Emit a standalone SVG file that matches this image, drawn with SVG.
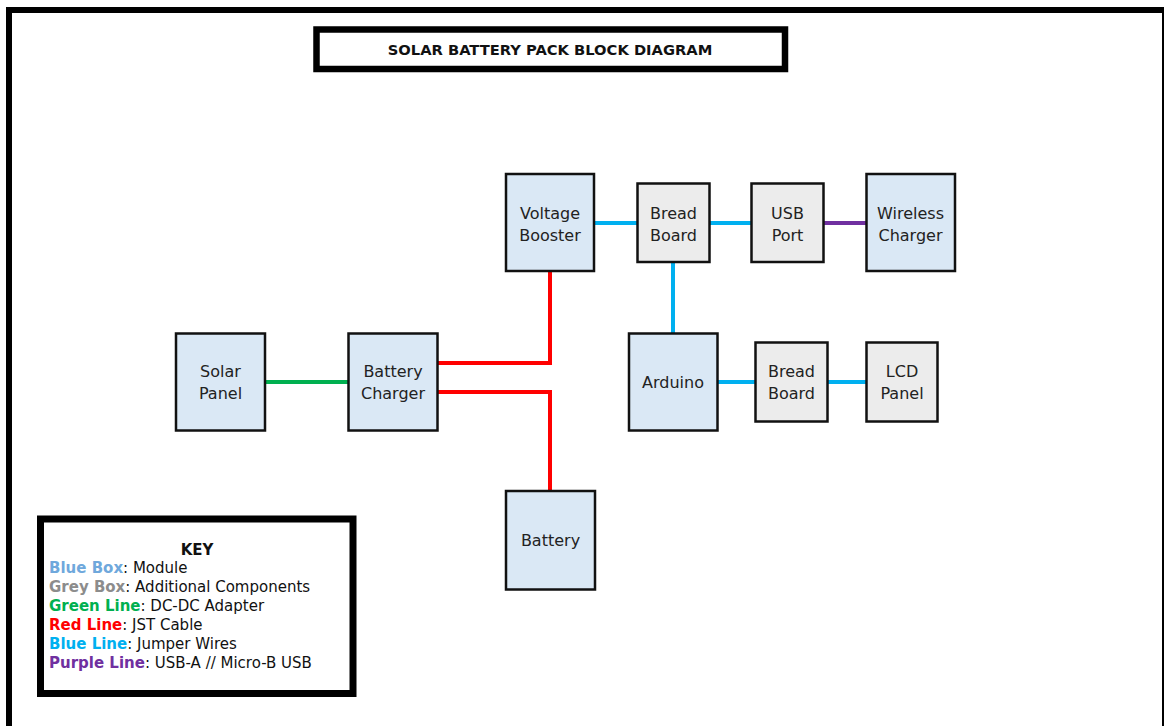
<svg xmlns="http://www.w3.org/2000/svg" width="1165" height="726" viewBox="0 0 1165 726">
  <style>
    .mod { fill: #dae8f5; stroke: #111; stroke-width: 2.5; }
    .add { fill: #ececec; stroke: #111; stroke-width: 2.5; }
    .lbl { font-family: "DejaVu Sans", Verdana, sans-serif; font-size: 16px; fill: #222; text-anchor: middle; }
    .wire { fill: none; stroke-width: 4; }
    .jst { stroke: #ff0000; }
    .jmp { stroke: #00b0f0; }
    .dc { stroke: #00b050; }
    .usb { stroke: #7030a0; }
    .key { font-family: "DejaVu Sans", Verdana, sans-serif; font-size: 15px; fill: #111; }
    .b { font-weight: bold; }
  </style>

  <rect width="1165" height="726" fill="#ffffff"/>

  <!-- page frame -->
  <g id="frame">
    <line x1="9" y1="7" x2="9" y2="726" stroke="#000" stroke-width="6"/>
    <line x1="6" y1="10" x2="1164" y2="10" stroke="#000" stroke-width="6"/>
    <line x1="1163" y1="10" x2="1163" y2="726" stroke="#000" stroke-width="2"/>
  </g>

  <!-- title -->
  <g id="title">
    <rect x="316.5" y="29.5" width="468.5" height="39.5" fill="#fff" stroke="#000" stroke-width="6.5"/>
    <text x="550" y="54.5" font-family="DejaVu Sans, Verdana, sans-serif" font-size="14.7" font-weight="bold" text-anchor="middle" fill="#111">SOLAR BATTERY PACK BLOCK DIAGRAM</text>
  </g>

  <!-- connectors -->
  <g id="connectors">
    <line class="wire dc" x1="266" y1="382" x2="348" y2="382"/>
    <polyline class="wire jst" points="438,363 550,363 550,271"/>
    <polyline class="wire jst" points="438,392 550,392 550,490"/>
    <line class="wire jmp" x1="594" y1="223" x2="637" y2="223"/>
    <line class="wire jmp" x1="710" y1="223" x2="751" y2="223"/>
    <line class="wire usb" x1="824" y1="223" x2="866" y2="223"/>
    <line class="wire jmp" x1="673" y1="262" x2="673" y2="333"/>
    <line class="wire jmp" x1="718" y1="382" x2="755" y2="382"/>
    <line class="wire jmp" x1="828" y1="382" x2="866" y2="382"/>
  </g>

  <!-- nodes -->
  <g id="voltage-booster">
    <rect class="mod" x="506" y="174" width="88" height="97"/>
    <text class="lbl" x="550" y="219">Voltage</text>
    <text class="lbl" x="550" y="241">Booster</text>
  </g>
  <g id="bread-board-top">
    <rect class="add" x="637.5" y="183.5" width="72" height="78.5"/>
    <text class="lbl" x="673.5" y="219">Bread</text>
    <text class="lbl" x="673.5" y="241">Board</text>
  </g>
  <g id="usb-port">
    <rect class="add" x="751.5" y="183.5" width="72" height="78.5"/>
    <text class="lbl" x="787.5" y="219">USB</text>
    <text class="lbl" x="787.5" y="241">Port</text>
  </g>
  <g id="wireless-charger">
    <rect class="mod" x="866.5" y="174" width="88.5" height="97"/>
    <text class="lbl" x="910.5" y="219">Wireless</text>
    <text class="lbl" x="910.5" y="241">Charger</text>
  </g>
  <g id="solar-panel">
    <rect class="mod" x="176" y="333.5" width="89" height="97"/>
    <text class="lbl" x="220.5" y="377">Solar</text>
    <text class="lbl" x="220.5" y="399">Panel</text>
  </g>
  <g id="battery-charger">
    <rect class="mod" x="348.5" y="333.5" width="89" height="97"/>
    <text class="lbl" x="393" y="377">Battery</text>
    <text class="lbl" x="393" y="399">Charger</text>
  </g>
  <g id="arduino">
    <rect class="mod" x="629" y="333.5" width="88.5" height="97"/>
    <text class="lbl" x="673" y="388">Arduino</text>
  </g>
  <g id="bread-board-bottom">
    <rect class="add" x="755.5" y="342.5" width="72" height="79"/>
    <text class="lbl" x="791.5" y="377">Bread</text>
    <text class="lbl" x="791.5" y="399">Board</text>
  </g>
  <g id="lcd-panel">
    <rect class="add" x="866.5" y="342.5" width="71" height="79"/>
    <text class="lbl" x="902" y="377">LCD</text>
    <text class="lbl" x="902" y="399">Panel</text>
  </g>
  <g id="battery">
    <rect class="mod" x="506" y="491" width="89" height="98.5"/>
    <text class="lbl" x="550.5" y="546">Battery</text>
  </g>

  <!-- legend -->
  <g id="key">
    <rect x="40.5" y="519" width="312.5" height="174.5" fill="#fff" stroke="#000" stroke-width="7"/>
    <text class="key b" x="197" y="555" text-anchor="middle">KEY</text>
    <text class="key" x="49" y="573"><tspan class="b" fill="#6fa8dc">Blue Box</tspan>: Module</text>
    <text class="key" x="49" y="592"><tspan class="b" fill="#8c8c8c">Grey Box</tspan>: Additional Components</text>
    <text class="key" x="49" y="611"><tspan class="b" fill="#00b050">Green Line</tspan>: DC-DC Adapter</text>
    <text class="key" x="49" y="630"><tspan class="b" fill="#ff0000">Red Line</tspan>: JST Cable</text>
    <text class="key" x="49" y="649"><tspan class="b" fill="#00b0f0">Blue Line</tspan>: Jumper Wires</text>
    <text class="key" x="49" y="668"><tspan class="b" fill="#7030a0">Purple Line</tspan>: USB-A // Micro-B USB</text>
  </g>
</svg>
